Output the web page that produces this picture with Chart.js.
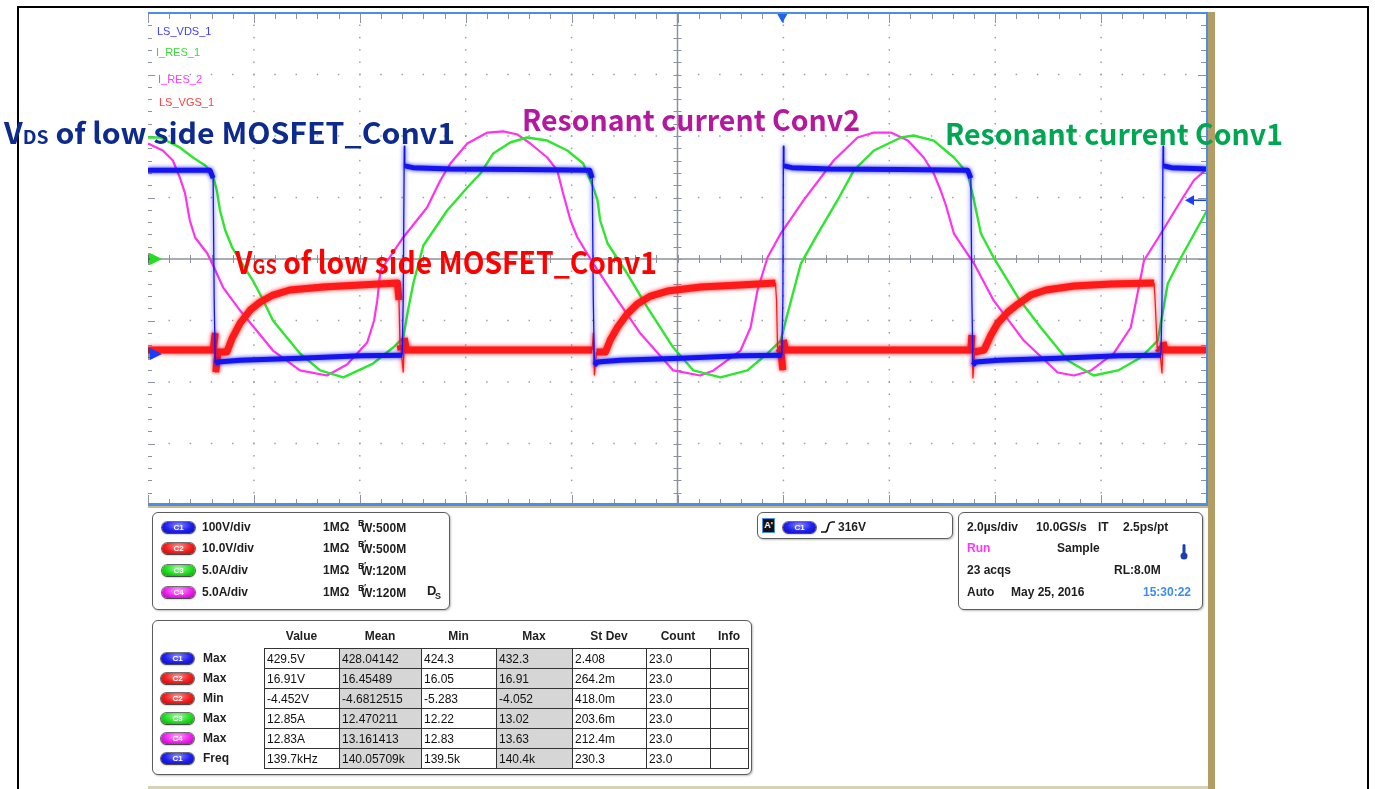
<!DOCTYPE html>
<html>
<head>
<meta charset="utf-8">
<title>LLC scope capture</title>
<script src="https://cdn.jsdelivr.net/npm/chart.js@4.4.1/dist/chart.umd.min.js"></script>
<style>
  html, body { margin:0; padding:0; background:#fff; }
  body { position:relative; width:1375px; height:789px; overflow:hidden; font-family:"Liberation Sans", Arial, sans-serif; }
  #scope { position:absolute; left:0; top:0; }
  .frame { position:absolute; left:17px; top:6px; width:1348px; height:800px; border:2px solid #000; border-bottom:none; }
  .bar { position:absolute; }
  .trace-lbl { position:absolute; font-size:11px; line-height:12px; white-space:nowrap; }
  .note { position:absolute; font-family:"Noto Sans CJK JP", "Noto Sans", sans-serif; font-weight:700; line-height:1; white-space:nowrap; transform-origin:0 0; }
  .note small { font-size:0.64em; }
  .box { position:absolute; border:1.5px solid #5c5c5c; border-radius:6px; box-shadow:1px 1px 2px rgba(0,0,0,0.25); background:#fff; }
  .t { position:absolute; font-size:12px; font-weight:bold; line-height:14px; color:#1e1e1e; white-space:nowrap; }
  .pill { position:absolute; width:33px; height:11px; border-radius:6px; color:#fff; font-size:8px; line-height:11px; text-align:center; font-weight:bold;
          box-shadow:0 0 0 1px rgba(0,0,0,0.55), 0 1px 2px rgba(0,0,0,0.5); }
  .c1 { background:radial-gradient(ellipse at 50% 30%, #8a8aff 0%, #2020f0 55%, #0a0ab0 100%); }
  .c2 { background:radial-gradient(ellipse at 50% 30%, #ff9090 0%, #f02020 55%, #b00a0a 100%); }
  .c3 { background:radial-gradient(ellipse at 50% 30%, #a0ffa0 0%, #22dd22 55%, #0a9a0a 100%); }
  .c4 { background:radial-gradient(ellipse at 50% 30%, #ffa0ff 0%, #ee22ee 55%, #a00aa0 100%); }
  table.meas { position:absolute; left:264px; top:648px; border-collapse:collapse; font-size:12px; color:#111; }
  table.meas td { border:1px solid #333; height:19px; padding:0 2px; white-space:nowrap; line-height:14px; }
  table.meas td.shade { background:#d6d6d6; }
</style>
</head>
<body>
<canvas id="scope" width="1375" height="789"></canvas>

<div class="frame"></div>
<div class="bar" style="left:148px;top:12px;width:1060px;height:2px;background:#4a8ee6"></div>
<div class="bar" style="left:1206px;top:12px;width:2px;height:494px;background:#4a8ee6"></div>
<div class="bar" style="left:148px;top:503px;width:1060px;height:3px;background:#4a8ee6"></div>
<div class="bar" style="left:148px;top:506px;width:1060px;height:2px;background:#c8b88a"></div>
<div class="bar" style="left:1208px;top:12px;width:7px;height:777px;background:#b39d62"></div>
<div class="bar" style="left:148px;top:786px;width:1060px;height:3px;background:#d9d1b3"></div>

<div class="trace-lbl" style="left:157px;top:25px;color:#3c3cff">LS_VDS_1</div>
<div class="trace-lbl" style="left:156px;top:46px;color:#3ad83a">I_RES_1</div>
<div class="trace-lbl" style="left:158px;top:73px;color:#ff3cff">I_RES_2</div>
<div class="trace-lbl" style="left:159px;top:96px;color:#ff3c3c">LS_VGS_1</div>

<div class="note" data-w="451" style="left:4px;top:117px;font-size:29px;color:#0d2b8e">V<small>DS</small> of low side MOSFET_Conv1</div>
<div class="note" data-w="338" style="left:522px;top:104px;font-size:29px;color:#b4189f">Resonant current Conv2</div>
<div class="note" data-w="338" style="left:945px;top:118px;font-size:29px;color:#00a651">Resonant current Conv1</div>
<div class="note" data-w="422" style="left:235px;top:245px;font-size:31px;color:#ff0000">V<small>GS</small> of low side MOSFET_Conv1</div>

<div class="box" style="left:152px;top:512px;width:296px;height:96px"></div>
<div class="box" style="left:757px;top:512px;width:194px;height:25px"></div>
<div class="box" style="left:958px;top:512px;width:243px;height:96px"></div>
<div class="box" style="left:152px;top:620px;width:598px;height:153px"></div>
<div id="panels"></div>

<script>
// scope settings: 2.0 us/div horizontally, 10 divisions
const timeMin = -10, timeMax = 10;
const triggerTime = 1.98;        // us, trigger marker at top
const trigArrowLevel = 250;      // V on C1, arrow at right edge

// channel vertical settings (per division) and ground offset in divisions
const c1PerDiv = 100, c1Offset = -1.545;
const c2PerDiv = 10, c2Offset = -1.545;
const iPerDiv = 5, iOffset = 0;

// LS_VDS_1 (C1) [time us, volts]
const vdsPoints = [
  [-10.00, 299], [-8.83, 299], [-8.77, 286], [-8.75, 88], [-8.73, -15], [-8.68, -13], [-8.26, -10], [-7.13, -7],
  [-5.99, -3], [-5.20, -2], [-5.18, 88], [-5.16, 338], [-5.15, 306], [-5.00, 303], [-4.29, 301], [-2.97, 300],
  [-1.66, 299], [-1.61, 286], [-1.59, 88], [-1.57, -18], [-1.51, -13], [-1.08, -10], [0.06, -7], [1.19, -3],
  [1.97, -2], [1.99, 88], [2.00, 338], [2.01, 306], [2.16, 303], [2.87, 301], [4.20, 300], [5.48, 299],
  [5.54, 286], [5.56, 88], [5.58, -18], [5.63, -13], [6.07, -10], [7.20, -7], [8.34, -3], [9.13, -2],
  [9.15, 88], [9.17, 338], [9.18, 306], [9.33, 303], [10.00, 301]
];

// LS_VGS_1 (C2) [time us, volts]
const vgsPoints = [
  [-10.00, 0.65], [-8.77, 0.65], [-8.73, 3.41], [-8.72, -2.93], [-8.68, 0.33], [-8.51, 0.33], [-8.41, 2.60],
  [-8.26, 5.04], [-8.07, 7.15], [-7.88, 8.46], [-7.64, 9.59], [-7.32, 10.41], [-6.69, 10.89], [-5.99, 11.22],
  [-5.29, 11.54], [-5.26, 8.78], [-5.24, 1.46], [-5.22, 0.65], [-5.18, -2.93], [-5.16, 2.60], [-5.12, 0.65],
  [-1.61, 0.65], [-1.59, 3.41], [-1.57, -3.41], [-1.53, 0.33], [-1.36, 0.33], [-1.27, 2.28], [-1.13, 4.39],
  [-0.95, 6.50], [-0.76, 8.13], [-0.51, 9.43], [-0.19, 10.24], [0.44, 10.89], [1.19, 11.22], [1.85, 11.54],
  [1.87, 8.78], [1.89, 0.98], [1.95, 0.65], [1.99, -2.60], [2.00, 2.28], [2.04, 0.65], [5.54, 0.65],
  [5.56, 3.09], [5.58, -3.90], [5.61, 0.33], [5.79, 0.65], [5.92, 3.09], [6.05, 5.04], [6.24, 6.83],
  [6.43, 8.13], [6.67, 9.59], [6.96, 10.41], [7.49, 11.06], [8.19, 11.38], [9.00, 11.54], [9.02, 8.78],
  [9.06, 0.98], [9.11, 0.65], [9.15, -3.09], [9.17, 1.95], [9.21, 0.65], [10.00, 0.65]
];

// I_RES_1 (C3) [time us, amps]
const ires1Points = [
  [-10.00, 9.88], [-9.77, 9.88], [-9.40, 9.07], [-9.15, 8.25], [-8.92, 7.60], [-8.79, 7.03], [-8.70, 5.57],
  [-8.64, 3.94], [-8.54, 2.32], [-8.41, 0.93], [-8.26, -0.12], [-8.02, -1.75], [-7.85, -3.13], [-7.64, -5.00],
  [-7.13, -7.68], [-6.75, -9.06], [-6.31, -9.63], [-5.75, -8.50], [-5.37, -7.20], [-5.18, -6.38], [-5.09, -4.19],
  [-4.99, -1.99], [-4.80, 1.10], [-4.35, 3.94], [-3.97, 5.81], [-3.72, 6.95], [-3.48, 8.58], [-3.16, 9.47],
  [-2.84, 9.88], [-2.46, 9.63], [-2.08, 8.82], [-1.78, 7.76], [-1.59, 5.81], [-1.51, 4.76], [-1.46, 3.13],
  [-1.32, 1.26], [-0.95, -1.18], [-0.57, -3.94], [-0.08, -7.20], [0.30, -9.06], [0.81, -9.63], [1.32, -9.06],
  [1.70, -7.68], [1.95, -6.63], [2.08, -4.43], [2.33, -0.37], [2.65, 2.07], [3.02, 4.76], [3.33, 7.20],
  [3.71, 8.82], [4.22, 9.88], [4.46, 10.04], [4.84, 9.63], [5.22, 8.25], [5.48, 6.95], [5.60, 4.76],
  [5.73, 2.07], [5.97, 0.12], [6.43, -3.13], [6.86, -5.57], [7.37, -8.25], [7.86, -9.47], [8.32, -9.06],
  [8.75, -8.01], [9.07, -6.63], [9.26, -1.99], [9.51, 0.12], [10.00, 3.94]
];

// I_RES_2 (C4) [time us, amps]
const ires2Points = [
  [-10.00, 9.39], [-9.72, 8.82], [-9.53, 8.01], [-9.40, 6.63], [-9.30, 5.33], [-9.21, 3.13], [-9.11, 1.75],
  [-8.88, 0.45], [-8.77, -0.53], [-8.58, -2.32], [-8.26, -4.19], [-7.64, -7.44], [-7.13, -9.06], [-6.62, -9.47],
  [-6.24, -8.58], [-5.86, -6.79], [-5.73, -5.00], [-5.67, -3.37], [-5.61, -0.93], [-5.44, 0.12], [-5.18, 1.75],
  [-4.73, 4.19], [-4.48, 6.38], [-4.29, 7.76], [-3.97, 9.39], [-3.59, 10.28], [-3.29, 10.37], [-3.02, 10.12],
  [-2.78, 9.39], [-2.46, 8.25], [-2.27, 7.20], [-2.16, 5.33], [-2.02, 3.13], [-1.89, 1.75], [-1.59, -0.37],
  [-1.13, -3.37], [-0.70, -6.06], [-0.08, -9.06], [0.43, -9.47], [0.68, -9.06], [1.19, -7.44], [1.38, -5.57],
  [1.51, -2.56], [1.70, 0.12], [1.95, 2.07], [2.38, 4.76], [2.95, 8.01], [3.40, 9.88], [3.71, 10.28],
  [4.03, 10.28], [4.35, 9.63], [4.65, 8.25], [4.84, 6.95], [4.97, 5.57], [5.07, 4.35], [5.22, 2.07],
  [5.60, -0.37], [5.97, -3.37], [6.54, -6.63], [7.18, -9.23], [7.49, -9.47], [7.81, -9.06], [8.24, -7.68],
  [8.56, -5.57], [8.70, -2.56], [8.81, -0.12], [9.13, 2.07], [9.51, 4.76], [9.75, 6.38], [10.00, 7.36]
];

// channel info panel
const chNames = ['C1', 'C2', 'C3', 'C4'];
const chScale = ['100V/div', '10.0V/div', '5.0A/div', '5.0A/div'];
const chBw = ['500M', '500M', '120M', '120M'];

// measurement table
const measHeaders = ['Value', 'Mean', 'Min', 'Max', 'St Dev', 'Count', 'Info'];
const measChannel = ['C1', 'C2', 'C2', 'C3', 'C4', 'C1'];
const measType = ['Max', 'Max', 'Min', 'Max', 'Max', 'Freq'];
const measValue = ['429.5V', '16.91V', '-4.452V', '12.85A', '12.83A', '139.7kHz'];
const measMean = ['428.04142', '16.45489', '-4.6812515', '12.470211', '13.161413', '140.05709k'];
const measMin = ['424.3', '16.05', '-5.283', '12.22', '12.83', '139.5k'];
const measMax = ['432.3', '16.91', '-4.052', '13.02', '13.63', '140.4k'];
const measStdDev = ['2.408', '264.2m', '418.0m', '203.6m', '212.4m', '230.3'];
const measCount = ['23.0', '23.0', '23.0', '23.0', '23.0', '23.0'];

function xy(points) {
  return points.map(p => ({ x: p[0], y: p[1] }));
}

// fast edges are drawn thin, like on the scope screen
function edgeWidth(w) {
  return c => (Math.abs(c.p1.y - c.p0.y) > 4 * Math.abs(c.p1.x - c.p0.x) + 12 ? 1.3 : w);
}

function axisFor(perDiv, offset) {
  return { type: 'linear', display: false, min: (-4 - offset) * perDiv, max: (4 - offset) * perDiv };
}

const graticule = {
  id: 'graticule',
  beforeDatasetsDraw(chart) {
    const { ctx, chartArea: a, scales } = chart;
    const sx = scales.x, sy = scales.yDiv;
    const cx = sx.getPixelForValue(0), cy = sy.getPixelForValue(0);
    ctx.save();

    ctx.fillStyle = '#9ba0a8';
    for (let i = 1; i < 10; i++) {
      if (i === 5) continue;
      const px = sx.getPixelForValue(timeMin + i * 2);
      for (let k = 1; k < 40; k++) {
        ctx.fillRect(px - 0.75, sy.getPixelForValue(-4 + k * 0.2) - 0.75, 1.5, 1.5);
      }
    }
    for (let j = 1; j < 8; j++) {
      if (j === 4) continue;
      const py = sy.getPixelForValue(-4 + j);
      for (let k = 1; k < 50; k++) {
        ctx.fillRect(sx.getPixelForValue(timeMin + k * 0.4) - 0.75, py - 0.75, 1.5, 1.5);
      }
    }

    ctx.strokeStyle = '#8d939e';
    ctx.lineWidth = 1.5;
    ctx.beginPath();
    ctx.moveTo(a.left, cy); ctx.lineTo(a.right, cy);
    ctx.moveTo(cx, a.top); ctx.lineTo(cx, a.bottom);
    ctx.stroke();

    ctx.lineWidth = 1;
    ctx.beginPath();
    for (let k = 0; k <= 50; k++) {
      const px = Math.round(sx.getPixelForValue(timeMin + k * 0.4)) + 0.5;
      const len = k % 5 === 0 ? 10 : 6;
      ctx.moveTo(px, cy - 4); ctx.lineTo(px, cy + 4);
      ctx.moveTo(px, a.top); ctx.lineTo(px, a.top + len);
      ctx.moveTo(px, a.bottom); ctx.lineTo(px, a.bottom - len);
    }
    for (let k = 0; k <= 40; k++) {
      const py = Math.round(sy.getPixelForValue(-4 + k * 0.2)) + 0.5;
      const len = k % 5 === 0 ? 9 : 6;
      ctx.moveTo(cx - 4, py); ctx.lineTo(cx + 4, py);
      ctx.moveTo(a.left, py); ctx.lineTo(a.left + len - 2, py);
      ctx.moveTo(a.right, py); ctx.lineTo(a.right - len, py);
    }
    ctx.stroke();
    ctx.restore();
  },
  // noisy channels get a soft halo
  beforeDatasetDraw(chart, args) {
    const glow = chart.data.datasets[args.index].glow;
    if (!glow) return;
    chart.ctx.save();
    chart.ctx.shadowColor = glow;
    chart.ctx.shadowBlur = 4;
  },
  afterDatasetDraw(chart, args) {
    if (chart.data.datasets[args.index].glow) chart.ctx.restore();
  },
  afterDatasetsDraw(chart) {
    const { ctx, chartArea: a, scales } = chart;
    ctx.save();
    // trigger position
    const tx = scales.x.getPixelForValue(triggerTime);
    ctx.fillStyle = '#1f63e6';
    ctx.beginPath();
    ctx.moveTo(tx - 5, a.top + 1); ctx.lineTo(tx + 5, a.top + 1); ctx.lineTo(tx, a.top + 10);
    ctx.fill();

    // ground markers on the left edge
    const marks = [
      [scales.yI.getPixelForValue(0), '#22dd22'],
      [scales.yC1.getPixelForValue(0), '#1a3cff']
    ];
    marks.forEach(([y, col]) => {
      ctx.fillStyle = col;
      ctx.beginPath();
      ctx.moveTo(a.left + 2, y - 6); ctx.lineTo(a.left + 14, y); ctx.lineTo(a.left + 2, y + 6);
      ctx.fill();
      ctx.strokeStyle = '#333';
      ctx.lineWidth = 1;
      ctx.beginPath();
      ctx.moveTo(a.left + 1, y - 6); ctx.lineTo(a.left + 1, y + 6);
      ctx.stroke();
    });

    // trigger level arrow on the right edge
    const ly = scales.yC1.getPixelForValue(trigArrowLevel);
    ctx.fillStyle = '#1a3cff';
    ctx.strokeStyle = '#1a3cff';
    ctx.beginPath();
    ctx.moveTo(a.right - 22, ly); ctx.lineTo(a.right - 13, ly - 5); ctx.lineTo(a.right - 13, ly + 5);
    ctx.fill();
    ctx.lineWidth = 1.5;
    ctx.beginPath();
    ctx.moveTo(a.right - 14, ly); ctx.lineTo(a.right, ly);
    ctx.stroke();
    ctx.restore();
  }
};

const ctx = document.getElementById('scope').getContext('2d');
const scopeChart = new Chart(ctx, {
  type: 'line',
  data: {
    datasets: [
      { label: 'LS_VDS_1', data: xy(vdsPoints), yAxisID: 'yC1', borderColor: '#1414f0', borderWidth: 5,
        segment: { borderWidth: edgeWidth(5) }, glow: 'rgba(20,20,240,0.9)', order: 1 },
      { label: 'LS_VGS_1', data: xy(vgsPoints), yAxisID: 'yC2', borderColor: '#ff1a1a', borderWidth: 7,
        segment: { borderWidth: edgeWidth(7) }, glow: 'rgba(255,20,20,0.9)', order: 2 },
      { label: 'I_RES_1', data: xy(ires1Points), yAxisID: 'yI', borderColor: '#2ee62e', borderWidth: 2.4, order: 3 },
      { label: 'I_RES_2', data: xy(ires2Points), yAxisID: 'yI', borderColor: '#ff33ee', borderWidth: 2.2, order: 4 }
    ]
  },
  options: {
    responsive: false,
    animation: false,
    events: [],
    elements: { point: { radius: 0 }, line: { tension: 0, borderJoinStyle: 'round' } },
    layout: { padding: { left: 148, top: 13, right: 168, bottom: 284 } },
    plugins: { legend: { display: false }, tooltip: { enabled: false } },
    scales: {
      x: { type: 'linear', display: false, min: timeMin, max: timeMax },
      yDiv: { type: 'linear', display: false, min: -4, max: 4 },
      yC1: axisFor(c1PerDiv, c1Offset),
      yC2: axisFor(c2PerDiv, c2Offset),
      yI: axisFor(iPerDiv, iOffset)
    }
  },
  plugins: [graticule]
});

// ---- panels under the screen ----
const panels = document.getElementById('panels');
function add(html, left, cy, cls, style) {
  const d = document.createElement('div');
  d.className = cls || 't';
  d.innerHTML = html;
  d.style.left = left + 'px';
  d.style.top = (cy - 7) + 'px';
  if (style) d.style.cssText += style;
  panels.appendChild(d);
  return d;
}
function pill(name, left, cy) {
  const d = document.createElement('div');
  d.className = 'pill ' + name.toLowerCase();
  d.textContent = name;
  d.style.left = left + 'px';
  d.style.top = (cy - 5.5) + 'px';
  panels.appendChild(d);
}

const chRowY = [527, 548, 570, 592];
chNames.forEach((n, i) => {
  const y = chRowY[i];
  pill(n, 162, y);
  add(chScale[i], 202, y);
  add('1M\u03A9', 323, y);
  add('B', 358, y - 4, 't', 'font-size:9px');
  if (i > 0) add('\u2032', 364, y - 5, 't', 'font-size:9px');
  add('W:' + chBw[i], 361, y + 1);
});
add('D', 427, 591, 't', 'font-size:13px');
add('S', 435, 596, 't', 'font-size:9px');

// trigger box
add("A'", 763, 526, 't', 'width:11px;height:13px;line-height:13px;background:#111;color:#fff;font-size:9px;text-align:center;outline:1px solid #4a8ee6');
pill('C1', 783, 527);
add('<svg width="16" height="14"><path d="M1 12 H5 Q7 12 7.5 9 L9 4 Q9.6 2 12 2 H15" stroke="#111" stroke-width="1.6" fill="none"/></svg>', 820, 527, 't', 'height:14px');
add('316V', 838, 527);

// timebase box
add('2.0\u00B5s/div', 967, 527);
add('10.0GS/s', 1036, 527);
add('IT', 1098, 527);
add('2.5ps/pt', 1123, 527);
add('Run', 967, 548, 't', 'color:#ff33ff');
add('Sample', 1057, 548);
add('<svg width="10" height="16"><rect x="3.5" y="0" width="3" height="11" rx="1.5" fill="#1a3fb5"/><circle cx="5" cy="12" r="3.5" fill="#1a3fb5"/></svg>', 1179, 551, 't', 'height:16px');
add('23 acqs', 967, 570);
add('RL:8.0M', 1114, 570);
add('Auto', 967, 592);
add('May 25, 2016', 1011, 592);
add('15:30:22', 1143, 592, 't', 'color:#3b8ef0');

// measurement table
const colW = [75, 82, 75, 76, 74, 64, 38];
let cx0 = 264;
measHeaders.forEach((h, i) => {
  add(h, cx0, 636, 't', 'width:' + colW[i] + 'px;text-align:center');
  cx0 += colW[i];
});
const tbl = document.createElement('table');
tbl.className = 'meas';
const colgroup = document.createElement('colgroup');
colW.forEach(w => { const c = document.createElement('col'); c.style.width = w + 'px'; colgroup.appendChild(c); });
tbl.appendChild(colgroup);
measType.forEach((t, r) => {
  const tr = document.createElement('tr');
  [measValue[r], measMean[r], measMin[r], measMax[r], measStdDev[r], measCount[r], ''].forEach((v, c) => {
    const td = document.createElement('td');
    td.textContent = v;
    if (c === 1 || c === 3) td.className = 'shade';
    tr.appendChild(td);
  });
  tbl.appendChild(tr);
  const y = 658 + r * 20;
  pill(measChannel[r], 161, y);
  add(t, 203, y);
});
tbl.style.width = colW.reduce((s, w) => s + w, 0) + 'px';
tbl.style.tableLayout = 'fixed';
panels.appendChild(tbl);

// fit annotation widths
document.querySelectorAll('.note').forEach(n => {
  const target = parseFloat(n.dataset.w);
  const w = n.getBoundingClientRect().width;
  n.style.transform = 'scaleX(' + (target / w).toFixed(4) + ')';
});
</script>
</body>
</html>
